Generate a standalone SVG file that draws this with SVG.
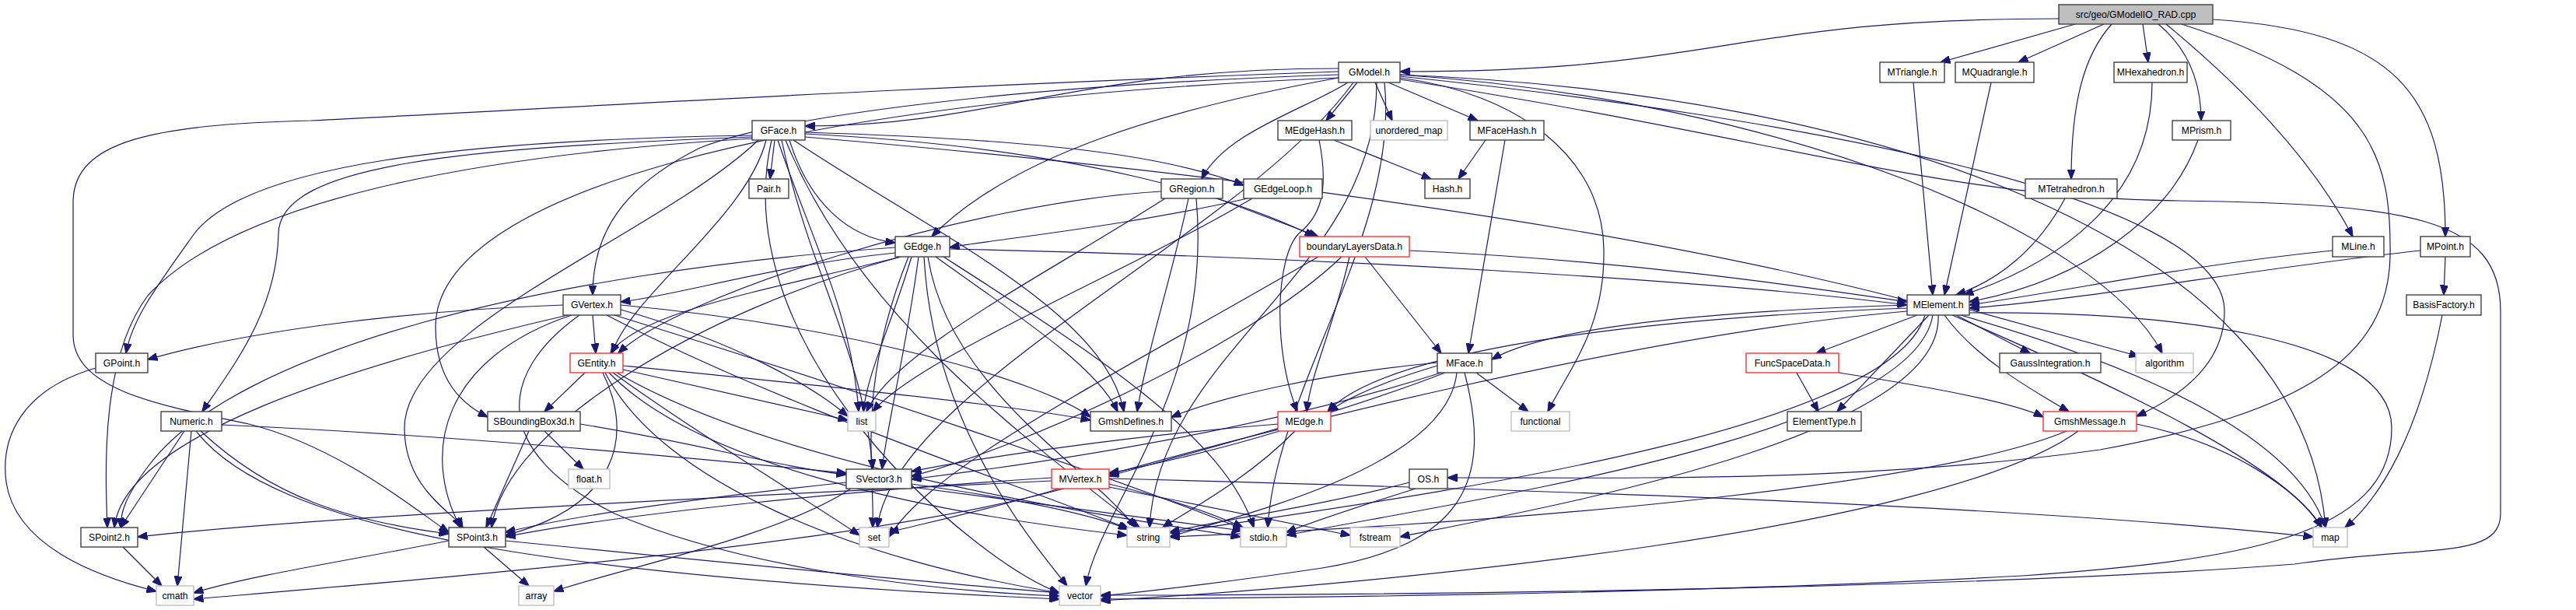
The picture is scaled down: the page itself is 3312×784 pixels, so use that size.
<svg xmlns="http://www.w3.org/2000/svg" width="3312" height="784" viewBox="0 0 3312 784">
<style>
.n rect{fill:#fff;stroke:#404040;stroke-width:1.4}
.n.red rect{stroke:#ff3030}
.n.ext rect{stroke:#bfbfbf}
.n.root rect{fill:#bfbfbf;stroke:#404040}
.n text{font-family:"Liberation Sans",Arial,sans-serif;font-size:12.2px;fill:#000;text-anchor:middle}
#edges path{fill:none;stroke:#191970;stroke-width:1.2;marker-end:url(#ah)}
</style>
<defs>
<marker id="ah" markerUnits="userSpaceOnUse" markerWidth="13" markerHeight="10" refX="12.5" refY="5" orient="auto">
<path d="M0,0 L13,5 L0,10 z" fill="#191970" stroke="#191970" stroke-width="1"/>
</marker>
</defs>
<rect width="3312" height="784" fill="#fff"/>
<g id="edges">
<path d="M2647,24 C2220,24 2220,92 1800,92"/>
<path d="M2668,31 L2495,80"/>
<path d="M2705,31 L2595,80"/>
<path d="M2755,31 L2762,80"/>
<path d="M2715,31 C2680,70 2663,130 2663,230"/>
<path d="M2775,31 C2810,60 2830,100 2830,155"/>
<path d="M2785,31 C2880,110 2970,200 3025,304"/>
<path d="M2845,25 C3080,40 3144,120 3144,304"/>
<path d="M2805,31 C3050,110 3075,200 3073,330 C3070,460 2960,530 2700,578 C2400,620 2100,614 1861,614"/>
<path d="M1721,88 C1380,88 1280,162 1035,162"/>
<path d="M1733,106 C1680,140 1575,170 1545,230"/>
<path d="M1721,100 C1500,140 1300,200 1198,304"/>
<path d="M1721,96 C1300,110 1000,150 900,190 C800,240 762,300 762,379"/>
<path d="M1721,100 C1000,130 560,250 560,420 C560,490 595,520 627,536"/>
<path d="M1721,92 C1200,110 700,140 400,155 C200,160 94,180 94,260 L94,430 C94,500 200,520 320,545 C440,575 540,660 577,684"/>
<path d="M1745,106 L1705,155"/>
<path d="M1768,106 L1790,155"/>
<path d="M1785,106 L1900,155"/>
<path d="M1800,100 C1950,120 2060,200 2062,320 C2064,420 2020,470 1990,529"/>
<path d="M1800,98 C2300,150 2860,250 2860,400 C2860,480 2780,520 2747,535"/>
<path d="M1800,96 C2300,130 2700,300 2780,454"/>
<path d="M1800,96 C2400,120 2960,300 2990,678"/>
<path d="M1740,106 C1600,300 1150,500 1128,678"/>
<path d="M1770,106 C1770,350 1490,450 1478,678"/>
<path d="M1800,102 C2300,180 2500,255 2800,258 C3100,262 3215,280 3215,400 L3215,660 C3215,720 3120,700 2950,725 C2500,760 1700,765 1415,765"/>
<path d="M1780,106 C1800,300 1640,500 1630,678"/>
<path d="M2460,106 L2485,379"/>
<path d="M2560,106 L2500,379"/>
<path d="M2767,106 C2767,260 2640,340 2525,379"/>
<path d="M2826,180 C2790,280 2680,360 2532,388"/>
<path d="M2655,255 C2620,320 2570,360 2515,379"/>
<path d="M2999,322 C2820,340 2680,370 2532,392"/>
<path d="M3112,322 C2900,345 2680,385 2532,396"/>
<path d="M3144,330 L3142,379"/>
<path d="M3140,405 C3110,560 3060,640 3015,678"/>
<path d="M996,180 L990,230"/>
<path d="M967,174 C600,180 320,210 250,300 C200,370 170,410 162,454"/>
<path d="M967,176 C600,190 360,210 358,300 C356,400 300,470 260,529"/>
<path d="M967,178 C600,200 300,260 190,380 C130,460 135,600 138,678"/>
<path d="M975,180 C850,300 520,420 520,550 C520,630 585,660 595,678"/>
<path d="M985,180 C960,280 810,380 787,454"/>
<path d="M1035,170 C1350,180 1500,200 1599,238"/>
<path d="M1015,180 C1040,260 1090,305 1151,312"/>
<path d="M1035,172 C1400,190 1600,260 1690,304"/>
<path d="M1020,180 C1200,300 1420,400 1445,529"/>
<path d="M1005,180 C1040,350 1110,450 1122,603"/>
<path d="M1000,180 C1040,300 1095,400 1104,529"/>
<path d="M1010,180 C1100,400 1300,550 1465,678"/>
<path d="M992,180 C930,450 1250,720 1362,762"/>
<path d="M1035,176 C1900,250 2900,400 2990,678"/>
<path d="M1715,180 L1840,230"/>
<path d="M1696,180 C1710,250 1695,280 1670,300 C1640,330 1636,450 1668,529"/>
<path d="M1910,180 L1875,230"/>
<path d="M1935,180 L1888,454"/>
<path d="M1493,246 C1250,260 870,380 795,454"/>
<path d="M1565,255 L1695,304"/>
<path d="M1528,255 C1508,350 1475,450 1462,529"/>
<path d="M1498,255 C1350,350 1150,450 1114,529"/>
<path d="M1538,255 C1560,500 1415,650 1396,753"/>
<path d="M1604,255 C1450,290 1300,305 1221,318"/>
<path d="M1610,255 C1450,350 1180,460 1122,529"/>
<path d="M1158,330 C1000,370 820,400 785,454"/>
<path d="M1151,325 C1000,340 870,380 798,388"/>
<path d="M1151,318 C700,350 300,450 190,600 C160,640 155,660 155,678"/>
<path d="M1158,330 C900,400 650,550 632,678"/>
<path d="M1181,330 C1165,450 1140,550 1134,603"/>
<path d="M1203,330 C1300,400 1410,470 1437,529"/>
<path d="M1172,330 C1145,420 1115,480 1110,529"/>
<path d="M1193,330 C1220,500 1400,600 1460,678"/>
<path d="M1188,330 C1200,550 1330,700 1372,753"/>
<path d="M1213,330 C1400,450 1575,560 1612,678"/>
<path d="M1168,330 C1100,500 1125,600 1122,678"/>
<path d="M1221,320 C1700,330 2200,360 2452,392"/>
<path d="M1755,330 L1853,454"/>
<path d="M1735,330 C1715,420 1685,480 1680,529"/>
<path d="M1725,330 C1600,450 1300,580 1172,612"/>
<path d="M1812,322 C2100,335 2330,370 2452,388"/>
<path d="M1695,330 C1400,500 1200,600 1143,690"/>
<path d="M2465,405 L2335,454"/>
<path d="M2480,405 L2362,529"/>
<path d="M2515,405 L2610,454"/>
<path d="M2500,405 C2540,460 2610,500 2660,529"/>
<path d="M2532,398 L2750,458"/>
<path d="M2452,392 C2200,400 1990,420 1918,462"/>
<path d="M2452,396 C2100,410 1780,450 1707,529"/>
<path d="M2452,400 C2100,430 1600,560 1426,610"/>
<path d="M2475,405 C2430,560 1800,640 1504,685"/>
<path d="M2485,405 C2460,560 1900,640 1654,688"/>
<path d="M2492,405 C2500,560 2000,650 1800,690"/>
<path d="M2532,402 C2780,400 3075,430 3075,550 C3075,690 2880,720 2600,740 C2200,762 1700,768 1415,770"/>
<path d="M2510,405 C2730,500 2940,600 2985,678"/>
<path d="M762,405 L766,454"/>
<path d="M724,392 C500,400 300,430 190,462"/>
<path d="M730,405 C450,470 160,560 147,678"/>
<path d="M735,405 C570,460 540,580 592,678"/>
<path d="M798,392 C1100,420 1340,490 1402,536"/>
<path d="M798,398 C950,440 1050,500 1090,535"/>
<path d="M780,405 C1000,520 1300,620 1452,680"/>
<path d="M790,405 C1100,500 1450,620 1598,680"/>
<path d="M745,405 C640,480 630,580 790,660 C950,730 1200,760 1362,766"/>
<path d="M752,479 L700,529"/>
<path d="M775,479 C815,560 795,650 650,688"/>
<path d="M801,475 L1090,540"/>
<path d="M788,479 C900,560 1050,650 1105,688"/>
<path d="M783,479 C900,600 1200,660 1449,688"/>
<path d="M778,479 C850,620 1100,720 1362,762"/>
<path d="M793,479 C1000,600 1400,660 1595,690"/>
<path d="M801,470 C1000,490 1300,520 1402,540"/>
<path d="M700,554 L750,603"/>
<path d="M680,554 L625,678"/>
<path d="M746,545 C900,570 1000,600 1088,610"/>
<path d="M622,703 L680,753"/>
<path d="M577,695 C450,720 320,740 249,762"/>
<path d="M650,695 C900,720 1200,750 1362,762"/>
<path d="M158,703 L208,753"/>
<path d="M123,473 C30,500 0,560 8,620 C20,700 120,740 201,760"/>
<path d="M237,554 L155,678"/>
<path d="M246,554 L228,753"/>
<path d="M258,554 C350,640 450,670 577,686"/>
<path d="M285,546 C600,560 900,590 1088,608"/>
<path d="M252,554 C350,680 700,740 1362,770"/>
<path d="M1088,620 C900,640 750,660 650,684"/>
<path d="M1172,622 C1300,640 1400,660 1450,680"/>
<path d="M1172,626 C1350,650 1500,670 1597,682"/>
<path d="M1094,628 C1000,690 800,730 712,760"/>
<path d="M1352,618 C900,640 400,665 177,690"/>
<path d="M1352,614 C1100,630 800,660 650,690"/>
<path d="M1362,628 C1290,650 1200,670 1143,684"/>
<path d="M1426,615 C2000,630 2600,650 2974,690"/>
<path d="M1426,622 C1500,640 1560,660 1598,678"/>
<path d="M1368,628 C1100,700 600,740 249,770"/>
<path d="M1426,626 C1550,650 1650,670 1736,688"/>
<path d="M1645,554 C1560,580 1470,600 1426,608"/>
<path d="M1643,545 C1450,560 1250,590 1172,606"/>
<path d="M1665,554 C1600,620 1520,660 1495,678"/>
<path d="M1848,470 C1780,490 1735,510 1708,529"/>
<path d="M1858,479 C1700,540 1500,590 1426,612"/>
<path d="M1853,479 C1600,560 1300,600 1172,616"/>
<path d="M1848,466 C1700,480 1570,510 1506,536"/>
<path d="M1898,479 L1965,529"/>
<path d="M1873,479 C1860,600 1600,660 1504,690"/>
<path d="M1883,479 C1920,620 1880,700 1700,730 C1600,745 1480,760 1415,766"/>
<path d="M1812,620 C1700,650 1560,670 1504,684"/>
<path d="M1820,628 C1750,650 1690,670 1654,684"/>
<path d="M2310,479 L2338,529"/>
<path d="M2364,479 C2500,500 2595,520 2627,536"/>
<path d="M2747,545 C2870,570 2955,630 2985,678"/>
<path d="M2657,554 C2500,620 2000,670 1504,690"/>
<path d="M2672,554 C2500,680 1800,750 1415,772"/>
</g>
<g id="src" class="n root"><rect x="2647" y="6" width="198" height="25"/><text x="2746" y="22.8">src/geo/GModelIO_RAD.cpp</text></g>
<g id="GModel" class="n"><rect x="1721" y="80" width="79" height="26"/><text x="1760.5" y="97.3">GModel.h</text></g>
<g id="MTriangle" class="n"><rect x="2417" y="80" width="83" height="26"/><text x="2458.5" y="97.3">MTriangle.h</text></g>
<g id="MQuadrangle" class="n"><rect x="2514" y="80" width="101" height="26"/><text x="2564.5" y="97.3">MQuadrangle.h</text></g>
<g id="MHexahedron" class="n"><rect x="2718" y="80" width="94" height="26"/><text x="2765" y="97.3">MHexahedron.h</text></g>
<g id="GFace" class="n"><rect x="967" y="155" width="68" height="25"/><text x="1001" y="171.8">GFace.h</text></g>
<g id="MEdgeHash" class="n"><rect x="1643" y="155" width="95" height="25"/><text x="1690.5" y="171.8">MEdgeHash.h</text></g>
<g id="unordered_map" class="n ext"><rect x="1762" y="155" width="99" height="25"/><text x="1811.5" y="171.8">unordered_map</text></g>
<g id="MFaceHash" class="n"><rect x="1890" y="155" width="95" height="25"/><text x="1937.5" y="171.8">MFaceHash.h</text></g>
<g id="MPrism" class="n"><rect x="2793" y="155" width="75" height="25"/><text x="2830.5" y="171.8">MPrism.h</text></g>
<g id="Pair" class="n"><rect x="963" y="230" width="51" height="25"/><text x="988.5" y="246.8">Pair.h</text></g>
<g id="GRegion" class="n"><rect x="1493" y="230" width="79" height="25"/><text x="1532.5" y="246.8">GRegion.h</text></g>
<g id="GEdgeLoop" class="n"><rect x="1599" y="230" width="101" height="25"/><text x="1649.5" y="246.8">GEdgeLoop.h</text></g>
<g id="Hash" class="n"><rect x="1832" y="230" width="58" height="25"/><text x="1861" y="246.8">Hash.h</text></g>
<g id="MTetrahedron" class="n"><rect x="2604" y="230" width="118" height="25"/><text x="2663" y="246.8">MTetrahedron.h</text></g>
<g id="GEdge" class="n"><rect x="1151" y="304" width="70" height="26"/><text x="1186" y="321.3">GEdge.h</text></g>
<g id="boundaryLayersData" class="n red"><rect x="1671" y="304" width="141" height="26"/><text x="1741.5" y="321.3">boundaryLayersData.h</text></g>
<g id="MLine" class="n"><rect x="2999" y="304" width="66" height="26"/><text x="3032" y="321.3">MLine.h</text></g>
<g id="MPoint" class="n"><rect x="3112" y="304" width="64" height="26"/><text x="3144" y="321.3">MPoint.h</text></g>
<g id="GVertex" class="n"><rect x="724" y="379" width="74" height="26"/><text x="761" y="396.3">GVertex.h</text></g>
<g id="MElement" class="n"><rect x="2452" y="379" width="80" height="26"/><text x="2492" y="396.3">MElement.h</text></g>
<g id="BasisFactory" class="n"><rect x="3094" y="379" width="96" height="26"/><text x="3142" y="396.3">BasisFactory.h</text></g>
<g id="GPoint" class="n"><rect x="123" y="454" width="67" height="25"/><text x="156.5" y="470.8">GPoint.h</text></g>
<g id="GEntity" class="n red"><rect x="733" y="454" width="68" height="25"/><text x="767" y="470.8">GEntity.h</text></g>
<g id="MFace" class="n"><rect x="1848" y="454" width="70" height="25"/><text x="1883" y="470.8">MFace.h</text></g>
<g id="FuncSpaceData" class="n red"><rect x="2245" y="454" width="119" height="25"/><text x="2304.5" y="470.8">FuncSpaceData.h</text></g>
<g id="GaussIntegration" class="n"><rect x="2571" y="454" width="130" height="25"/><text x="2636" y="470.8">GaussIntegration.h</text></g>
<g id="algorithm" class="n ext"><rect x="2746" y="454" width="74" height="25"/><text x="2783" y="470.8">algorithm</text></g>
<g id="Numeric" class="n"><rect x="207" y="529" width="78" height="25"/><text x="246" y="545.8">Numeric.h</text></g>
<g id="SBoundingBox3d" class="n"><rect x="627" y="529" width="119" height="25"/><text x="686.5" y="545.8">SBoundingBox3d.h</text></g>
<g id="list" class="n ext"><rect x="1090" y="529" width="36" height="25"/><text x="1108" y="545.8">list</text></g>
<g id="GmshDefines" class="n"><rect x="1402" y="529" width="104" height="25"/><text x="1454" y="545.8">GmshDefines.h</text></g>
<g id="MEdge" class="n red"><rect x="1643" y="529" width="68" height="25"/><text x="1677" y="545.8">MEdge.h</text></g>
<g id="functional" class="n ext"><rect x="1943" y="529" width="75" height="25"/><text x="1980.5" y="545.8">functional</text></g>
<g id="ElementType" class="n"><rect x="2298" y="529" width="95" height="25"/><text x="2345.5" y="545.8">ElementType.h</text></g>
<g id="GmshMessage" class="n red"><rect x="2627" y="529" width="120" height="25"/><text x="2687" y="545.8">GmshMessage.h</text></g>
<g id="float" class="n ext"><rect x="731" y="603" width="53" height="25"/><text x="757.5" y="619.8">float.h</text></g>
<g id="SVector3" class="n"><rect x="1088" y="603" width="84" height="25"/><text x="1130" y="619.8">SVector3.h</text></g>
<g id="MVertex" class="n red"><rect x="1352" y="603" width="74" height="25"/><text x="1389" y="619.8">MVertex.h</text></g>
<g id="OS" class="n"><rect x="1812" y="603" width="49" height="25"/><text x="1836.5" y="619.8">OS.h</text></g>
<g id="SPoint2" class="n"><rect x="104" y="678" width="73" height="25"/><text x="140.5" y="694.8">SPoint2.h</text></g>
<g id="SPoint3" class="n"><rect x="577" y="678" width="73" height="25"/><text x="613.5" y="694.8">SPoint3.h</text></g>
<g id="set" class="n ext"><rect x="1105" y="678" width="38" height="25"/><text x="1124" y="694.8">set</text></g>
<g id="string" class="n ext"><rect x="1449" y="678" width="55" height="25"/><text x="1476.5" y="694.8">string</text></g>
<g id="stdio" class="n ext"><rect x="1595" y="678" width="59" height="25"/><text x="1624.5" y="694.8">stdio.h</text></g>
<g id="fstream" class="n ext"><rect x="1736" y="678" width="64" height="25"/><text x="1768" y="694.8">fstream</text></g>
<g id="map" class="n ext"><rect x="2974" y="678" width="44" height="25"/><text x="2996" y="694.8">map</text></g>
<g id="cmath" class="n ext"><rect x="201" y="753" width="48" height="25"/><text x="225" y="769.8">cmath</text></g>
<g id="array" class="n ext"><rect x="667" y="753" width="45" height="25"/><text x="689.5" y="769.8">array</text></g>
<g id="vector" class="n ext"><rect x="1362" y="753" width="53" height="25"/><text x="1388.5" y="769.8">vector</text></g>
</svg>
